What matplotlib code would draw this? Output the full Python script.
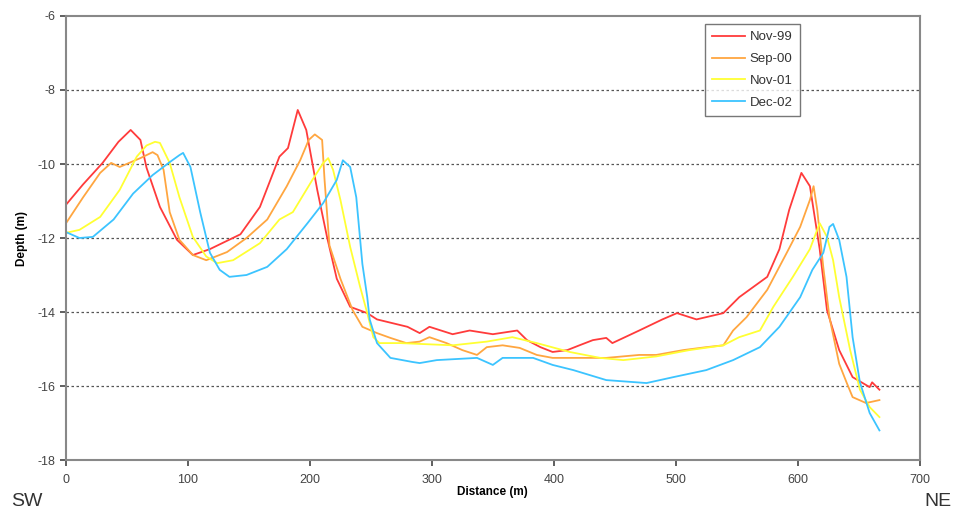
import matplotlib
matplotlib.use("Agg")
import matplotlib.pyplot as plt

plt.rcParams['font.family'] = ['Liberation Sans', 'DejaVu Sans']
plt.rcParams['axes.unicode_minus'] = False

# Nov-99
x_nov99 = [0, 14, 30, 43, 53, 61, 66, 77, 91, 104, 118, 143, 159, 175, 182, 190, 197, 206, 214, 222, 233, 247, 255,
           280, 290, 298, 317, 331, 350, 370, 378, 389, 399, 411, 421, 432, 443, 448, 470, 489, 501, 517, 539, 552,
           575, 585, 593, 603, 610, 618, 624, 634, 645, 659, 661, 667]
y_nov99 = [-11.1, -10.55, -9.97, -9.4, -9.08, -9.35, -10.1, -11.16, -12.05, -12.46, -12.3, -11.9, -11.16, -9.8, -9.57,
           -8.54, -9.08, -10.7, -11.97, -13.1, -13.86, -14.03, -14.2, -14.4, -14.57, -14.4, -14.6, -14.5, -14.6, -14.5,
           -14.76, -14.95, -15.08, -15.03, -14.9, -14.76, -14.7, -14.84, -14.5, -14.2, -14.03, -14.2, -14.03, -13.6,
           -13.05, -12.3, -11.24, -10.24, -10.6, -12.3, -13.95, -15.03, -15.76, -16.03, -15.9, -16.1]

# Sep-00
x_sep00 = [0, 14, 28, 37, 44, 61, 71, 75, 80, 85, 93, 104, 115, 132, 148, 165, 181, 192, 199, 204, 210, 212, 216,
           225, 235, 243, 255, 266, 279, 290, 298, 312, 325, 337, 345, 358, 372, 386, 399, 416, 443, 470, 484, 506,
           525, 539, 547, 558, 575, 591, 602, 610, 613, 616, 621, 626, 634, 640, 645, 656, 667]
y_sep00 = [-11.6, -10.9, -10.24, -9.97, -10.08, -9.84, -9.68, -9.76, -10.16, -11.3, -12.05, -12.46, -12.6, -12.38,
           -12.0, -11.5, -10.6, -9.9, -9.35, -9.2, -9.35, -10.43, -12.2, -13.1, -13.95, -14.4, -14.57, -14.7, -14.84,
           -14.8, -14.68, -14.84, -15.03, -15.16, -14.95, -14.9, -14.97, -15.16, -15.24, -15.24, -15.24, -15.16,
           -15.16, -15.03, -14.95, -14.9, -14.5, -14.14, -13.4, -12.4, -11.7, -10.97, -10.6, -11.24, -12.8, -14.14,
           -15.4, -15.9, -16.3, -16.46, -16.38]

# Nov-01
x_nov01 = [0, 11, 28, 44, 58, 66, 73, 77, 85, 93, 104, 115, 124, 137, 159, 175, 186, 202, 211, 215, 219, 225, 233,
           241, 247, 252, 257, 274, 317, 345, 366, 386, 413, 438, 457, 484, 511, 539, 552, 569, 580, 596, 610, 618,
           624, 629, 634, 643, 651, 659, 667]
y_nov01 = [-11.86, -11.78, -11.43, -10.7, -9.8, -9.5, -9.4, -9.43, -9.97, -10.9, -11.97, -12.5, -12.68, -12.6,
           -12.14, -11.5, -11.3, -10.43, -9.97, -9.84, -10.16, -10.97, -12.24, -13.3, -14.03, -14.68, -14.84, -14.84,
           -14.9, -14.8, -14.68, -14.84, -15.08, -15.24, -15.3, -15.2, -15.03, -14.9, -14.68, -14.5, -13.86, -13.05,
           -12.3, -11.6, -11.97, -12.6, -13.6, -15.03, -16.1, -16.57, -16.84]

# Dec-02
x_dec02 = [0, 11, 22, 39, 55, 71, 85, 93, 96, 102, 110, 118, 126, 134, 148, 165, 181, 198, 211, 222, 227, 233, 238,
           243, 247, 249, 255, 266, 284, 290, 304, 337, 350, 358, 383, 399, 416, 443, 476, 498, 525, 547, 569, 585,
           602, 612, 621, 626, 629, 634, 640, 645, 651, 659, 667]
y_dec02 = [-11.84, -12.0, -11.97, -11.5, -10.8, -10.3, -9.95, -9.76, -9.7, -10.08, -11.3, -12.4, -12.86, -13.05,
           -13.0, -12.78, -12.3, -11.6, -11.05, -10.43, -9.9, -10.08, -10.9, -12.7, -13.6, -14.2, -14.84, -15.24,
           -15.35, -15.38, -15.3, -15.24, -15.43, -15.24, -15.24, -15.43, -15.57, -15.84, -15.92, -15.76, -15.57,
           -15.3, -14.95, -14.4, -13.6, -12.86, -12.4, -11.7, -11.62, -12.05, -13.05, -14.68, -15.9, -16.73, -17.2]

series_labels = ["Nov-99", "Sep-00", "Nov-01", "Dec-02"]
series_colors = ["#ff3b3b", "#ffa640", "#ffff33", "#3cc4ff"]

x_ticks = [0, 100, 200, 300, 400, 500, 600, 700]
y_ticks = [-18, -16, -14, -12, -10, -8, -6]

fig = plt.figure(figsize=(9.57, 5.16), dpi=100)
ax = fig.add_axes([0.069, 0.1085, 0.892, 0.8605])

data = [(x_nov99, y_nov99), (x_sep00, y_sep00), (x_nov01, y_nov01), (x_dec02, y_dec02)]
for (xs, ys), lab, col in zip(data, series_labels, series_colors):
    ax.plot(xs, ys, color=col, lw=1.3, label=lab)

ax.set_xlim(0, 700)
ax.set_ylim(-18, -6)
ax.set_xticks(x_ticks)
ax.set_yticks(y_ticks)
ax.tick_params(labelsize=9, colors="#444444", length=4, width=1.2, direction="out")
ax.tick_params(axis="x", pad=6)
for s in ax.spines.values():
    s.set_color("#888888")
    s.set_linewidth(1.5)

for yv in [-16, -14, -12, -10, -8]:
    ax.axhline(yv, color="#555555", lw=0.9, ls=(0, (2, 2)), zorder=0)

ax.set_xlabel("Distance (m)", fontsize=8.5, fontweight="bold", labelpad=0)
ax.set_ylabel("Depth (m)", fontsize=8.5, fontweight="bold", labelpad=7)

leg = ax.legend(loc="upper left", bbox_to_anchor=(0.748, 0.982), fontsize=9.5,
                frameon=True, fancybox=False, edgecolor="#555555", handlelength=2.5,
                handletextpad=0.35, borderpad=0.55, labelspacing=0.72, borderaxespad=0)
leg.get_frame().set_linewidth(1.0)
for t in leg.get_texts():
    t.set_color("#333333")

fig.text(0.012, 0.02, "SW", fontsize=14, color="#333333")
fig.text(0.966, 0.02, "NE", fontsize=14, color="#333333")

fig.savefig("out.png", dpi=100)
